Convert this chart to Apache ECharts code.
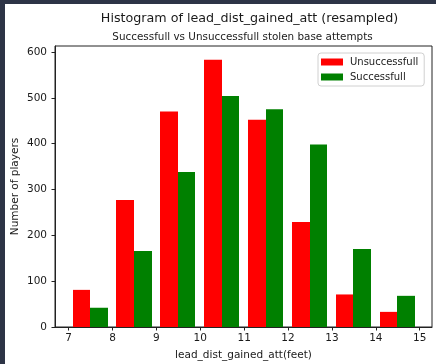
<!DOCTYPE html>
<html>
<head>
<meta charset="utf-8">
<script src="https://cdn.jsdelivr.net/npm/echarts@6/dist/echarts.min.js"></script>
<style>
  html, body { margin: 0; padding: 0; background: #2d3446; width: 436px; height: 364px; overflow: hidden; }
  #chart { position: absolute; left: 5px; top: 4px; width: 431px; height: 360px; background: #ffffff; }
</style>
</head>
<body>
<div id="chart"></div>
<script>
// ---- data ----
const binStarts = [6.99, 7.99, 8.99, 9.99, 10.99, 11.99, 12.99, 13.99];
const binWidth = 1.0;
const unsuccessful = [81, 277, 470, 583, 452, 229, 71, 33];
const successful = [42, 166, 338, 504, 475, 398, 170, 68];
const xTicks = [7, 8, 9, 10, 11, 12, 13, 14, 15];
const yTicks = [0, 100, 200, 300, 400, 500, 600];
const seriesNames = ['Unsuccessfull', 'Successfull'];

const FONT = 'DejaVu Sans';
const TXT = '#1a1a1a';

function makeRender(offsetFrac) {
  return function (params, api) {
    const start = api.value(0) + offsetFrac * binWidth;
    const end = start + 0.4 * binWidth;
    const p0 = api.coord([start, api.value(1)]);
    const p1 = api.coord([end, 0]);
    const x0 = Math.round(p0[0]), x1 = Math.round(p1[0]);
    return {
      type: 'rect',
      shape: { x: x0, y: p0[1], width: x1 - x0, height: p1[1] - p0[1] },
      style: { fill: api.visual('color'), stroke: null, lineWidth: 0 }
    };
  };
}

const chart = echarts.init(document.getElementById('chart'), null, { renderer: 'canvas' });
chart.setOption({
  animation: false,
  backgroundColor: '#ffffff',
  title: [
    { text: 'Histogram of lead_dist_gained_att (resampled)', left: 239.5, top: 3.5, textAlign: 'center',
      textStyle: { fontFamily: FONT, fontSize: 12.7, fontWeight: 'normal', color: TXT } },
    { text: 'Successfull vs Unsuccessfull stolen base attempts', left: 232.5, top: 23, textAlign: 'center',
      textStyle: { fontFamily: FONT, fontSize: 10.4, fontWeight: 'normal', color: TXT } }
  ],
  legend: {
    orient: 'vertical',
    left: 313, top: 49,
    padding: [4, 6, 4, 3],
    itemWidth: 22, itemHeight: 7, itemGap: 5,
    borderColor: '#d0d0d0', borderWidth: 1, borderRadius: 3,
    backgroundColor: '#ffffff',
    textStyle: { fontFamily: FONT, fontSize: 10, color: TXT, padding: [0, 0, 0, 2] },
    data: [
      { name: seriesNames[0], icon: 'rect' },
      { name: seriesNames[1], icon: 'rect' }
    ]
  },
  grid: { left: 50, top: 42, right: 4, bottom: 37, show: true, borderColor: '#222', borderWidth: 1,
          containLabel: false, outerBoundsMode: 'none' },
  xAxis: {
    type: 'value', min: 6.69, max: 15.28,
    name: 'lead_dist_gained_att(feet)', nameLocation: 'middle', nameGap: 23, nameMoveOverlap: false,
    nameTextStyle: { fontFamily: FONT, fontSize: 10.5, color: TXT },
    axisLine: { show: true, onZero: false, lineStyle: { color: '#222', width: 1 } },
    axisTick: { show: true, inside: false, length: 3.5, lineStyle: { color: '#222' }, customValues: xTicks },
    axisLabel: { fontFamily: FONT, fontSize: 10.5, color: TXT, margin: 6, customValues: xTicks },
    splitLine: { show: false }
  },
  yAxis: {
    type: 'value', min: 0, max: 613,
    name: 'Number of players', nameLocation: 'middle', nameGap: 34, nameRotate: 90, nameMoveOverlap: false,
    nameTextStyle: { fontFamily: FONT, fontSize: 10.5, color: TXT },
    axisLine: { show: true, lineStyle: { color: '#222', width: 1 } },
    axisTick: { show: true, inside: false, length: 3.5, lineStyle: { color: '#222' }, customValues: yTicks },
    axisLabel: { fontFamily: FONT, fontSize: 10.5, color: TXT, margin: 8, customValues: yTicks },
    splitLine: { show: false }
  },
  series: [
    { name: seriesNames[0], type: 'custom', renderItem: makeRender(0.1), itemStyle: { color: '#ff0000' },
      encode: { x: 0, y: 1 }, data: binStarts.map((b, i) => [b, unsuccessful[i]]) },
    { name: seriesNames[1], type: 'custom', renderItem: makeRender(0.5), itemStyle: { color: '#008000' },
      encode: { x: 0, y: 1 }, data: binStarts.map((b, i) => [b, successful[i]]) }
  ]
});
</script>
</body>
</html>
